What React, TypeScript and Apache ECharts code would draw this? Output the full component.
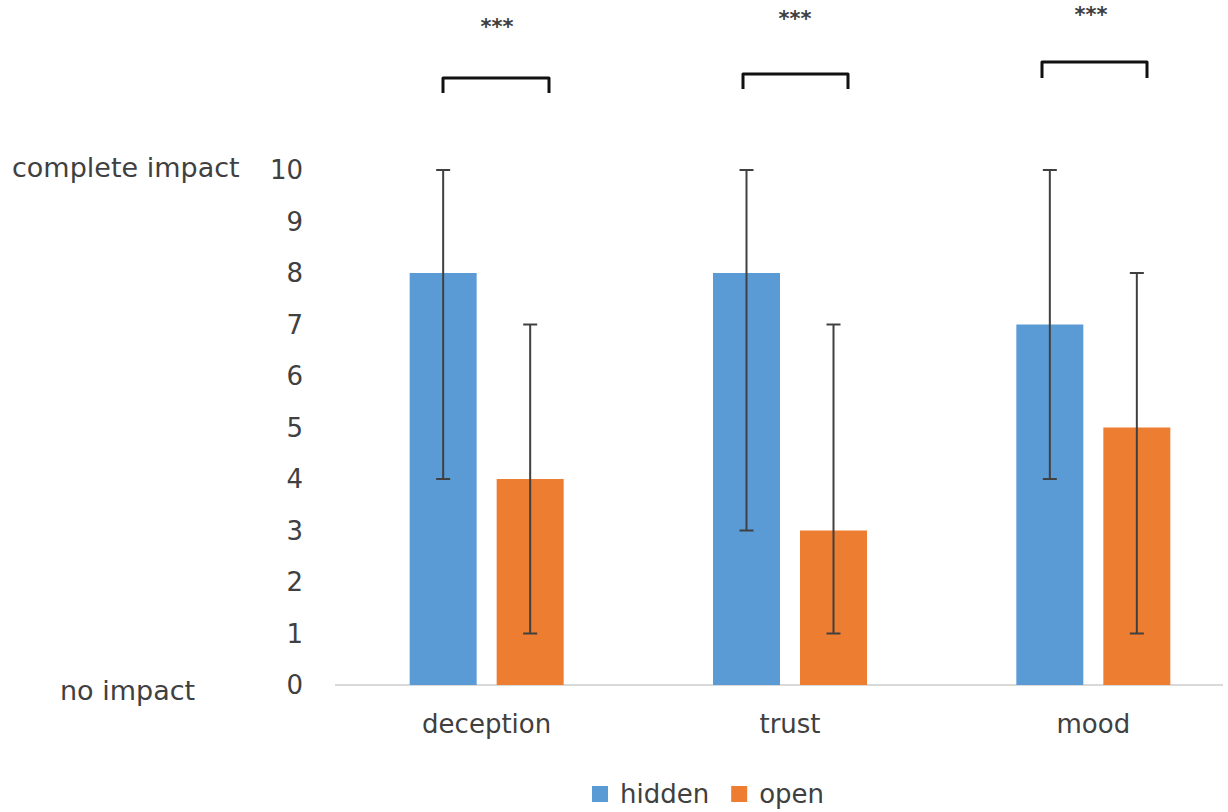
import React, { useEffect, useRef } from "react";
import * as echarts from "echarts";

const categories = ["deception", "trust", "mood"];
const hiddenValues = [8, 8, 7];
const openValues = [4, 3, 5];
const hiddenLow = [4, 3, 4];
const hiddenHigh = [10, 10, 10];
const openLow = [1, 1, 1];
const openHigh = [7, 7, 8];
const significance = ["***", "***", "***"];
const yTicks = [0, 10];

const FONT = "'DejaVu Sans', sans-serif";
const TEXT = "#404040";
const BAR_W = 67;
const BAR_GAP = 20;

function errorSeries(name: string, low: number[], high: number[], offset: number) {
  return {
    type: "custom",
    name,
    z: 5,
    silent: true,
    data: categories.map((_, i) => [i, low[i], high[i]]),
    renderItem: (params: any, api: any) => {
      const lo = api.coord([api.value(0), api.value(1)]);
      const hi = api.coord([api.value(0), api.value(2)]);
      const x = lo[0] + offset;
      const cap = 7;
      const style = { stroke: "#404040", lineWidth: 2 };
      return {
        type: "group",
        children: [
          { type: "line", shape: { x1: x, y1: lo[1], x2: x, y2: hi[1] }, style },
          { type: "line", shape: { x1: x - cap, y1: lo[1], x2: x + cap, y2: lo[1] }, style },
          { type: "line", shape: { x1: x - cap, y1: hi[1], x2: x + cap, y2: hi[1] }, style },
        ],
      };
    },
    tooltip: { show: false },
  };
}

const brackets = [
  { x1: 443, x2: 549, y: 78, drop: 15, sx: 497, sy: 27 },
  { x1: 743, x2: 848, y: 74, drop: 15, sx: 795, sy: 19 },
  { x1: 1042, x2: 1147, y: 62, drop: 16, sx: 1091, sy: 15 },
];

export default function App() {
  const ref = useRef<HTMLDivElement>(null);
  useEffect(() => {
    document.body.style.margin = "0";
    const chart = echarts.init(ref.current!, null, { renderer: "svg" });
    const half = BAR_W / 2 + BAR_GAP / 2;
    const graphics: any[] = [];
    brackets.forEach((b, i) => {
      graphics.push({
        type: "polyline",
        shape: { points: [[b.x1, b.y + b.drop], [b.x1, b.y], [b.x2, b.y], [b.x2, b.y + b.drop]] },
        style: { stroke: "#111", lineWidth: 3, fill: null, lineJoin: "round" },
      });
      graphics.push({
        type: "text",
        x: b.sx,
        y: b.sy,
        style: {
          text: significance[i],
          font: `bold 21px ${FONT}`,
          fill: "#404040",
          align: "center",
          verticalAlign: "middle",
        },
      });
    });
    graphics.push({
      type: "line",
      shape: { x1: 335, y1: 685, x2: 1223, y2: 685 },
      style: { stroke: "#D9D9D9", lineWidth: 2 },
    });
    graphics.push({
      type: "text",
      x: 12,
      y: 167,
      style: { text: "complete impact", font: `27px ${FONT}`, fill: TEXT, verticalAlign: "middle" },
    });
    graphics.push({
      type: "text",
      x: 60,
      y: 690,
      style: { text: "no impact", font: `27px ${FONT}`, fill: TEXT, verticalAlign: "middle" },
    });

    chart.setOption({
      animation: false,
      textStyle: { fontFamily: FONT },
      grid: {
        left: 335,
        width: 910,
        top: 170,
        bottom: 127,
        containLabel: false,
        outerBoundsMode: "none",
      },
      legend: {
        top: 776,
        left: 587,
        itemWidth: 16,
        itemHeight: 16,
        itemGap: 22,
        icon: "rect",
        textStyle: { fontSize: 26, color: TEXT, fontFamily: FONT, padding: [0, 0, 0, 7] },
        data: ["hidden", "open"],
      },
      xAxis: {
        type: "category",
        data: categories,
        axisLine: { show: false },
        axisTick: { show: false },
        axisLabel: { fontSize: 26, color: TEXT, margin: 26, fontFamily: FONT },
      },
      yAxis: {
        type: "value",
        min: yTicks[0],
        max: yTicks[1],
        interval: 1,
        splitLine: { show: false },
        axisLine: { show: false },
        axisTick: { show: false },
        axisLabel: { fontSize: 26, color: TEXT, margin: 32, fontFamily: FONT },
      },
      series: [
        {
          name: "hidden",
          type: "bar",
          data: hiddenValues,
          barWidth: BAR_W,
          barGap: `${(BAR_GAP / BAR_W) * 100}%`,
          itemStyle: { color: "#5B9BD5" },
        },
        {
          name: "open",
          type: "bar",
          data: openValues,
          barWidth: BAR_W,
          itemStyle: { color: "#ED7D31" },
        },
        errorSeries("hiddenErr", hiddenLow, hiddenHigh, -half),
        errorSeries("openErr", openLow, openHigh, half),
      ],
      graphic: graphics,
    });
    return () => chart.dispose();
  }, []);
  return <div ref={ref} style={{ width: 1228, height: 812 }} />;
}
